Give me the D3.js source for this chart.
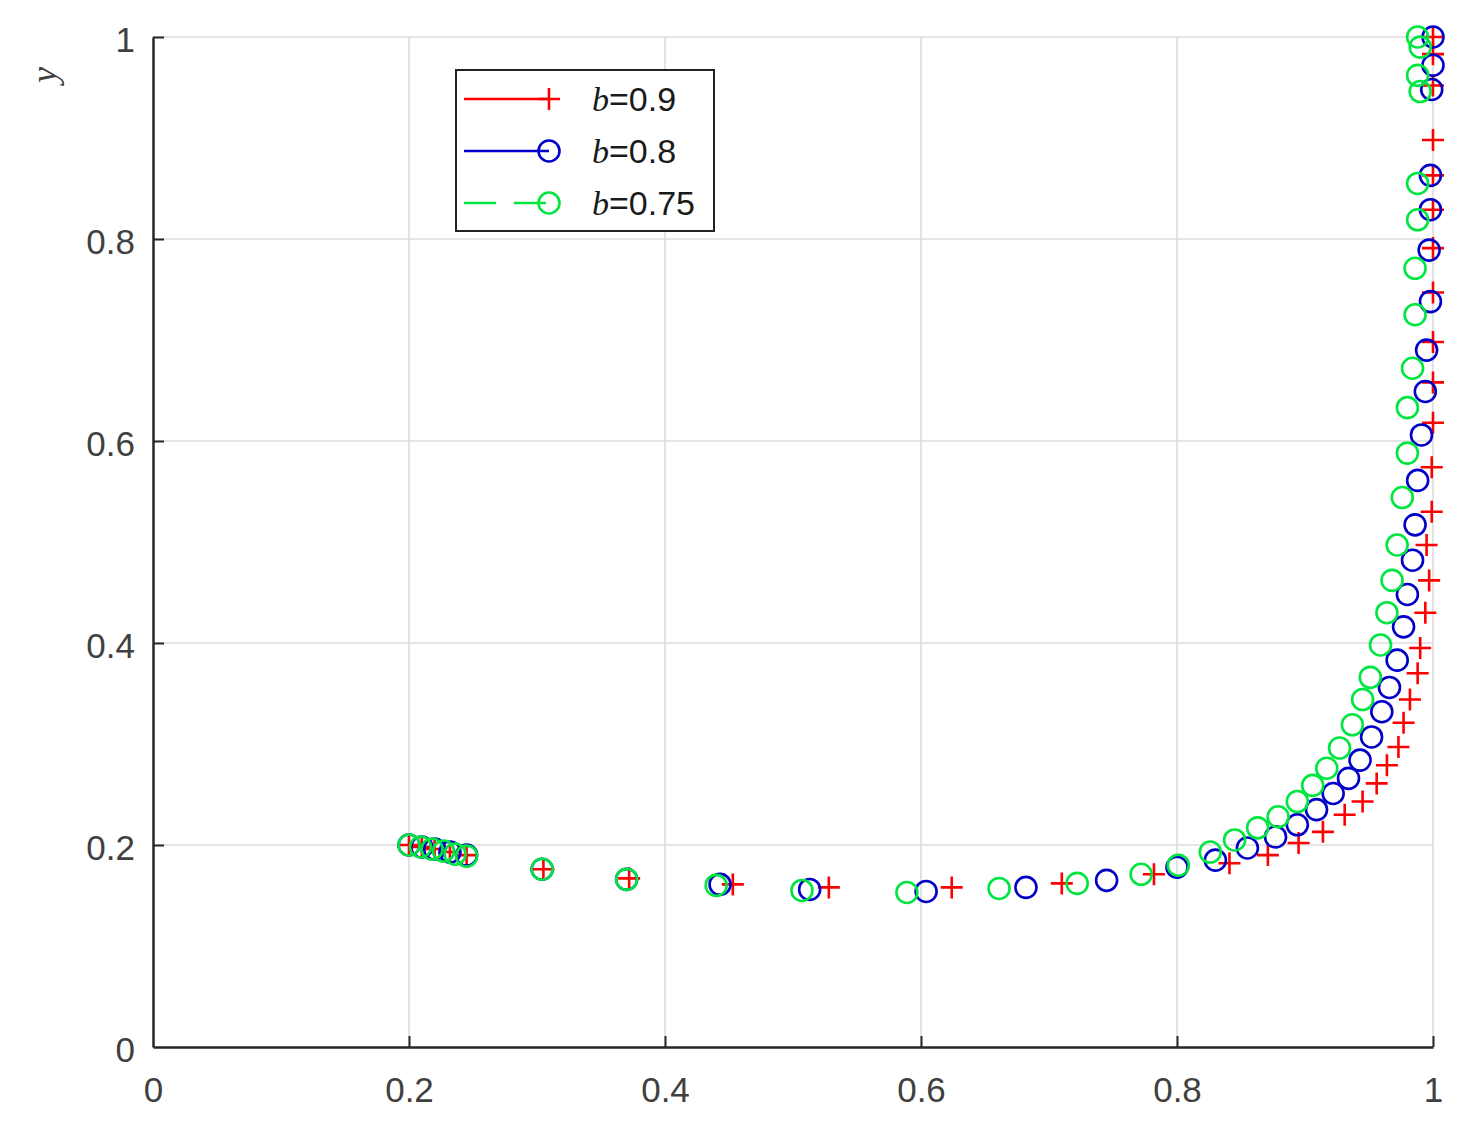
<!DOCTYPE html>
<html><head><meta charset="utf-8">
<script src="https://cdn.jsdelivr.net/npm/d3@7"></script>
<style>body{margin:0;background:#fff}svg{display:block}</style>
</head><body><svg id="c" width="1481" height="1139"></svg>
<script>
const xTicks=[0,0.2,0.4,0.6,0.8,1];
const yTicks=[0,0.2,0.4,0.6,0.8,1];
const xTickLabels=["0","0.2","0.4","0.6","0.8","1"];
const yTickLabels=["0","0.2","0.4","0.6","0.8","1"];
const seriesValues=["0.9","0.8","0.75"];

// b = 0.9 (red +)
const redX=[0.200,0.210,0.220,0.232,0.245,0.305,0.372,0.453,0.528,0.624,0.710,0.782,0.841,0.871,0.895,0.914,0.931,0.945,0.956,0.964,0.973,0.977,0.982,0.988,0.990,0.994,0.997,0.995,0.999,0.999,1.000,1.000,1.000,1.000,1.000,1.000,1.000,1.000,1.000,1.000,1.000];
const redY=[0.200,0.198,0.196,0.193,0.190,0.176,0.167,0.161,0.158,0.158,0.162,0.171,0.182,0.190,0.202,0.213,0.230,0.243,0.261,0.279,0.297,0.321,0.344,0.370,0.395,0.430,0.462,0.497,0.530,0.574,0.618,0.658,0.698,0.747,0.791,0.829,0.863,0.898,0.952,0.983,1.000];
// b = 0.8 (blue o)
const blueX=[0.200,0.210,0.220,0.232,0.245,0.304,0.370,0.443,0.513,0.604,0.682,0.745,0.800,0.830,0.855,0.877,0.894,0.909,0.922,0.934,0.943,0.952,0.960,0.966,0.972,0.977,0.980,0.984,0.986,0.988,0.991,0.994,0.995,0.998,0.997,0.998,0.998,0.999,1.000,1.000];
const blueY=[0.200,0.198,0.196,0.193,0.190,0.176,0.166,0.161,0.156,0.154,0.158,0.165,0.178,0.185,0.197,0.208,0.220,0.235,0.251,0.266,0.284,0.307,0.332,0.356,0.383,0.416,0.448,0.482,0.517,0.561,0.606,0.649,0.690,0.738,0.789,0.829,0.863,0.948,0.972,1.000];
// b = 0.75 (green o)
const greenX=[0.200,0.209,0.218,0.227,0.236,0.245,0.304,0.370,0.440,0.507,0.589,0.661,0.722,0.772,0.801,0.826,0.845,0.863,0.879,0.894,0.906,0.917,0.927,0.937,0.945,0.951,0.959,0.964,0.968,0.972,0.976,0.980,0.980,0.984,0.986,0.986,0.988,0.988,0.990,0.988,0.990,0.988];
const greenY=[0.200,0.198,0.196,0.194,0.191,0.189,0.176,0.166,0.160,0.155,0.153,0.157,0.162,0.171,0.180,0.193,0.205,0.217,0.228,0.243,0.259,0.276,0.296,0.319,0.344,0.366,0.398,0.430,0.462,0.497,0.544,0.588,0.633,0.672,0.725,0.771,0.819,0.855,0.946,0.962,0.990,1.000];

const svg=d3.select("#c");
svg.append("rect").attr("width",1481).attr("height",1139).attr("fill","#fff");
const x=d3.scaleLinear().domain([0,1]).range([153,1433]);
const y=d3.scaleLinear().domain([0,1]).range([1047,37]);
const FONT="'Liberation Sans', Arial, Helvetica, sans-serif";
const axisColor="#262626", textColor="#404040";

// grid
const grid=svg.append("g").attr("stroke","#dcdcdc").attr("stroke-width",1.6);
xTicks.filter(d=>d>0).forEach(d=>grid.append("line").attr("x1",x(d)).attr("x2",x(d)).attr("y1",y(0)).attr("y2",y(1)));
yTicks.filter(d=>d>0).forEach(d=>grid.append("line").attr("y1",y(d)).attr("y2",y(d)).attr("x1",x(0)).attr("x2",x(1)));

// axes with inward ticks
const xAxis=d3.axisBottom(x).tickValues(xTicks).tickFormat((d,i)=>xTickLabels[i]).tickSizeInner(-11).tickSizeOuter(0).tickPadding(30);
const yAxis=d3.axisLeft(y).tickValues(yTicks).tickFormat((d,i)=>yTickLabels[i]).tickSizeInner(-11).tickSizeOuter(0).tickPadding(18);
const gx=svg.append("g").attr("transform",`translate(0,${y(0)})`).call(xAxis);
const gy=svg.append("g").attr("transform",`translate(${x(0)},0)`).call(yAxis);
[gx,gy].forEach(g=>{
  g.select(".domain").attr("stroke",axisColor).attr("stroke-width",2.5);
  g.selectAll(".tick line").attr("stroke",axisColor).attr("stroke-width",2);
  g.selectAll(".tick text").attr("fill",textColor).attr("font-family",FONT).attr("font-size",35);
});
gx.selectAll(".tick text").attr("dy","0.71em");
gy.selectAll(".tick text").attr("dy","0.4em").attr("dx",0);
gx.selectAll(".tick").filter(d=>d===0).select("line").remove();
gy.selectAll(".tick").filter(d=>d===0).select("line").remove();

// y axis label
svg.append("text").attr("transform","translate(56,75) rotate(-90)").attr("text-anchor","middle")
  .attr("font-family","'Liberation Serif', 'DejaVu Serif', serif").attr("font-style","italic")
  .attr("font-size",36).attr("fill",textColor).text("y");

const colors={red:"#ff0000",blue:"#0000c8",green:"#00e640"};
function plus(g,cx,cy,col,s){
  g.append("path").attr("d",`M${cx-s},${cy}H${cx+s}M${cx},${cy-s}V${cy+s}`)
   .attr("stroke",col).attr("stroke-width",2.6).attr("fill","none");
}
const R=10.5;
const gr=svg.append("g");
redX.forEach((v,i)=>plus(gr,x(v),y(redY[i]),colors.red,11));
const gb=svg.append("g");
gb.selectAll("circle").data(blueX).join("circle").attr("cx",d=>x(d)).attr("cy",(d,i)=>y(blueY[i]))
  .attr("r",R).attr("fill","none").attr("stroke",colors.blue).attr("stroke-width",2.6);
const gg=svg.append("g");
gg.selectAll("circle").data(greenX).join("circle").attr("cx",d=>x(d)).attr("cy",(d,i)=>y(greenY[i]))
  .attr("r",R).attr("fill","none").attr("stroke",colors.green).attr("stroke-width",2.6);

// legend
const lg=svg.append("g");
lg.append("rect").attr("x",456).attr("y",70).attr("width",258).attr("height",161)
  .attr("fill","#fff").attr("stroke","#222").attr("stroke-width",2);
const rows=[{c:colors.red,m:"plus",dash:null,v:seriesValues[0],yy:99},
            {c:colors.blue,m:"circle",dash:null,v:seriesValues[1],yy:151},
            {c:colors.green,m:"circle",dash:"32,18",v:seriesValues[2],yy:203}];
rows.forEach(r=>{
  const l=lg.append("line").attr("x1",464).attr("x2",549).attr("y1",r.yy).attr("y2",r.yy)
    .attr("stroke",r.c).attr("stroke-width",2.5);
  if(r.dash) l.attr("stroke-dasharray",r.dash);
  if(r.m==="plus") plus(lg,549,r.yy,r.c,11);
  else lg.append("circle").attr("cx",549).attr("cy",r.yy).attr("r",R).attr("fill","none").attr("stroke",r.c).attr("stroke-width",2.6);
  const t=lg.append("text").attr("x",592).attr("y",r.yy).attr("dy","0.36em").attr("font-family",FONT)
    .attr("font-size",34).attr("fill","#1a1a1a");
  t.append("tspan").attr("font-style","italic").attr("font-family","'Liberation Serif', serif").text("b");
  t.append("tspan").text("="+r.v);
});
</script></body></html>
